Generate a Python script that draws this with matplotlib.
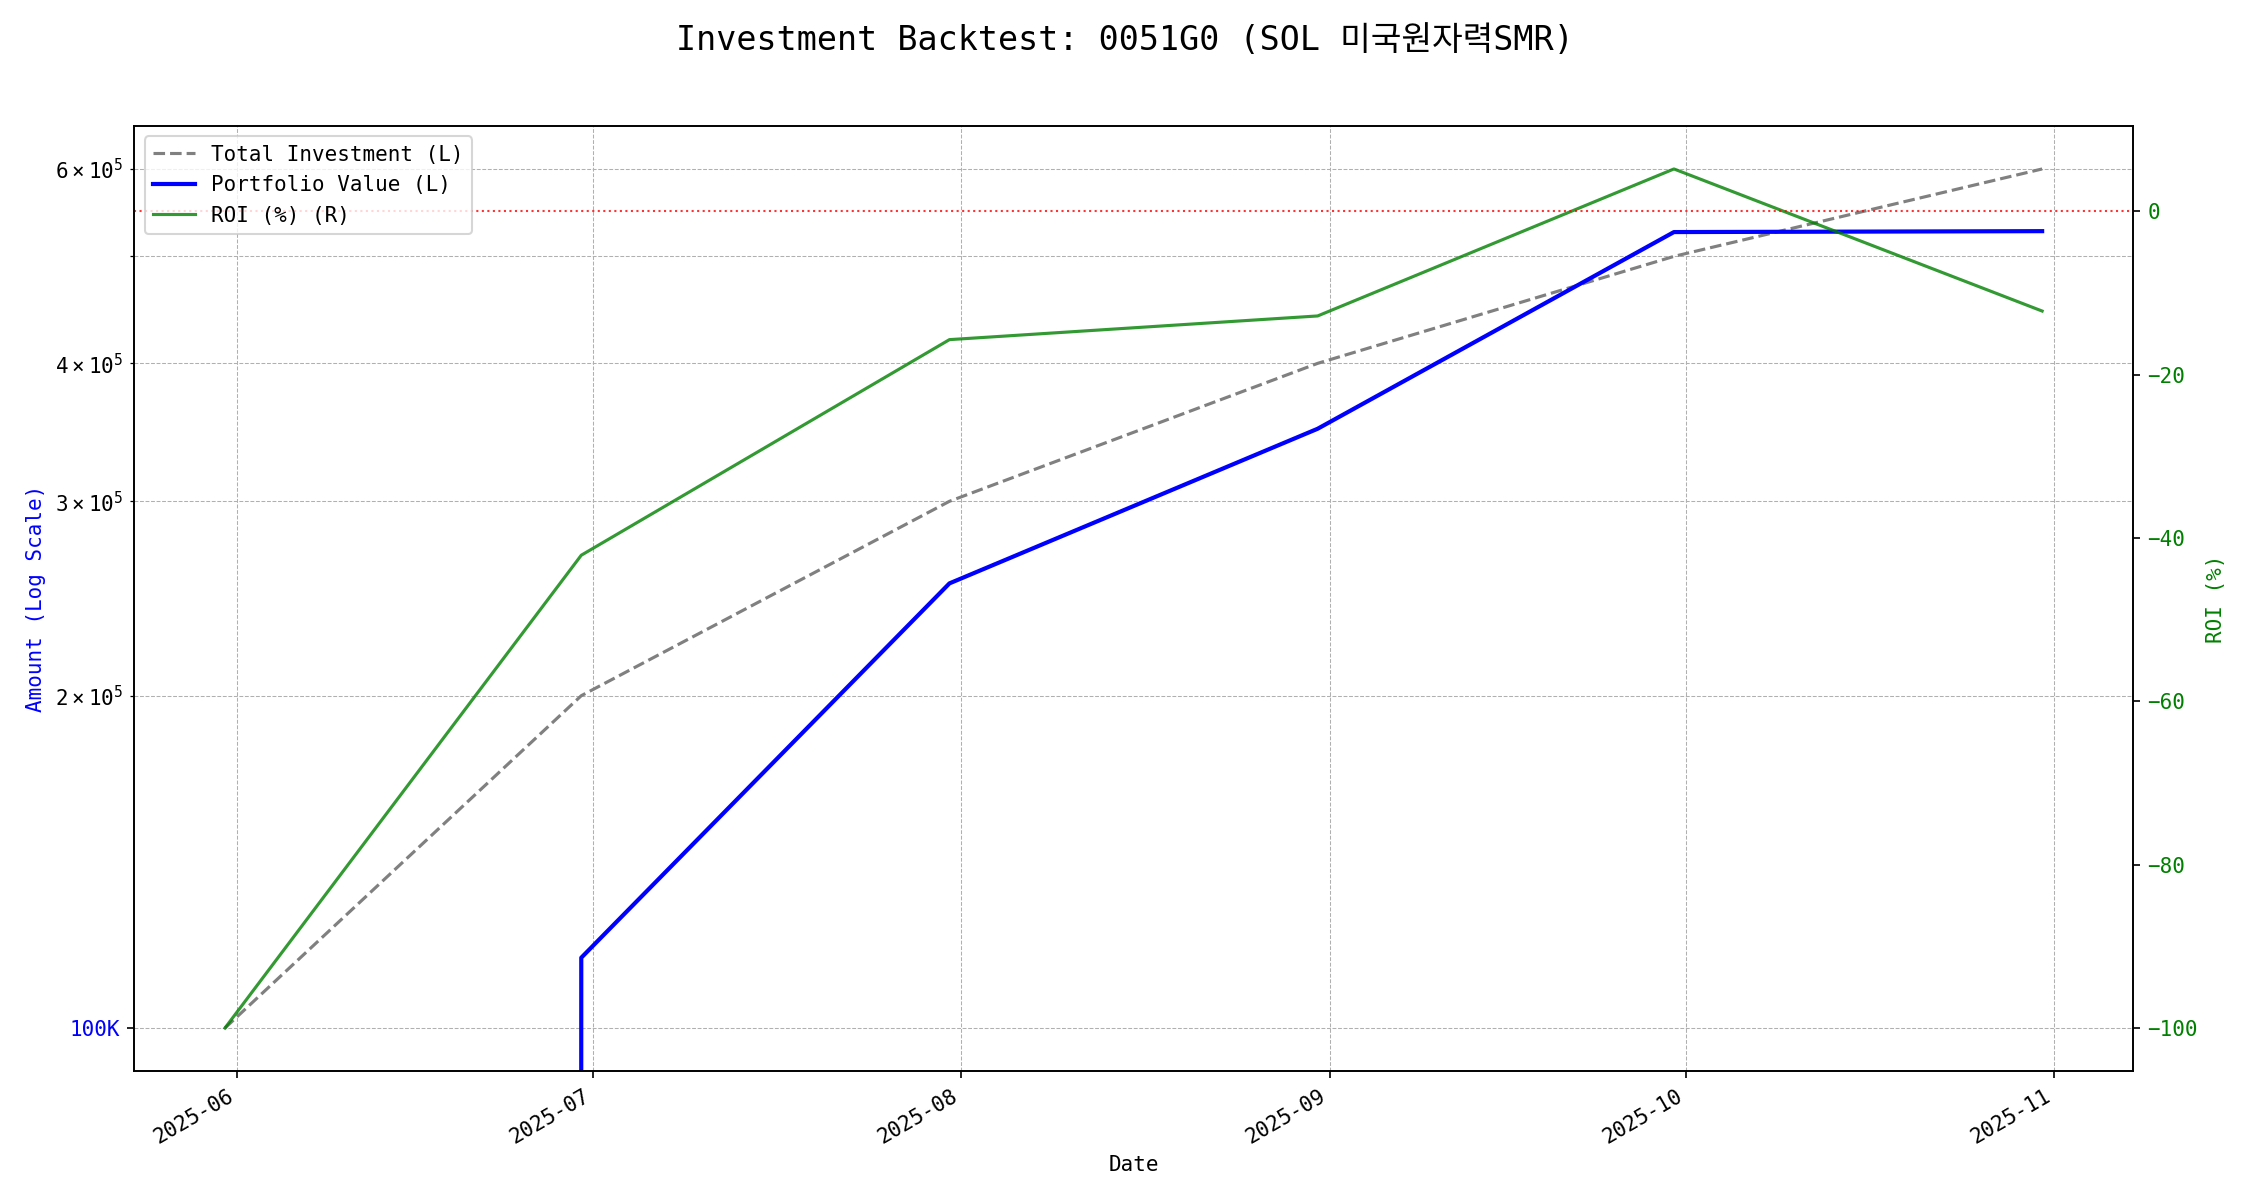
import matplotlib
matplotlib.use('Agg')
import matplotlib.pyplot as plt
import matplotlib.dates as mdates
from matplotlib.ticker import FuncFormatter
import pandas as pd

plt.rcParams['font.family'] = ['DejaVu Sans Mono', 'Noto Sans CJK KR']

# - Data (month-end backtest points)
dates = pd.to_datetime(['2025-05-31', '2025-06-30', '2025-07-31',
                        '2025-08-31', '2025-09-30', '2025-10-31'])
total_investment = [100000, 200000, 300000, 400000, 500000, 600000]
portfolio_value = [0, 115800, 252800, 349000, 526000, 527000]
roi = [-100.0, -42.1, -15.7, -12.8, 5.2, -12.2]

title = 'Investment Backtest: 0051G0 (SOL 미국원자력SMR)'

# - Figure
fig, ax1 = plt.subplots(figsize=(15, 8), dpi=150)

l1, = ax1.plot(dates, total_investment, color='gray', linestyle='--',
               linewidth=1.5, label='Total Investment (L)')
l2, = ax1.plot(dates, portfolio_value, color='blue', linewidth=2,
               label='Portfolio Value (L)')
ax1.set_yscale('log')
ax1.yaxis.set_major_formatter(FuncFormatter(lambda v, p: f'{v/1000:.0f}K'))
ax1.tick_params(axis='y', labelcolor='blue')
ax1.set_ylabel('Amount (Log Scale)', color='blue')
ax1.set_xlabel('Date')
ax1.grid(True, which='both', linestyle='--', linewidth=0.5)

ax2 = ax1.twinx()
l3, = ax2.plot(dates, roi, color='green', linewidth=1.5, alpha=0.8,
               label='ROI (%) (R)')
ax2.axhline(0, color='red', linestyle=':', linewidth=1, alpha=0.8)
ax2.set_ylabel('ROI (%)', color='green')
ax2.tick_params(axis='y', labelcolor='green')

ax1.xaxis.set_major_locator(mdates.MonthLocator())
ax1.xaxis.set_major_formatter(mdates.DateFormatter('%Y-%m'))
fig.autofmt_xdate()

lines = [l1, l2, l3]
ax2.legend(lines, [l.get_label() for l in lines], loc='upper left')

fig.suptitle(title, fontsize=16)
fig.subplots_adjust(left=0.0596, right=0.948, top=0.895, bottom=0.1075)
plt.savefig('out.png')
